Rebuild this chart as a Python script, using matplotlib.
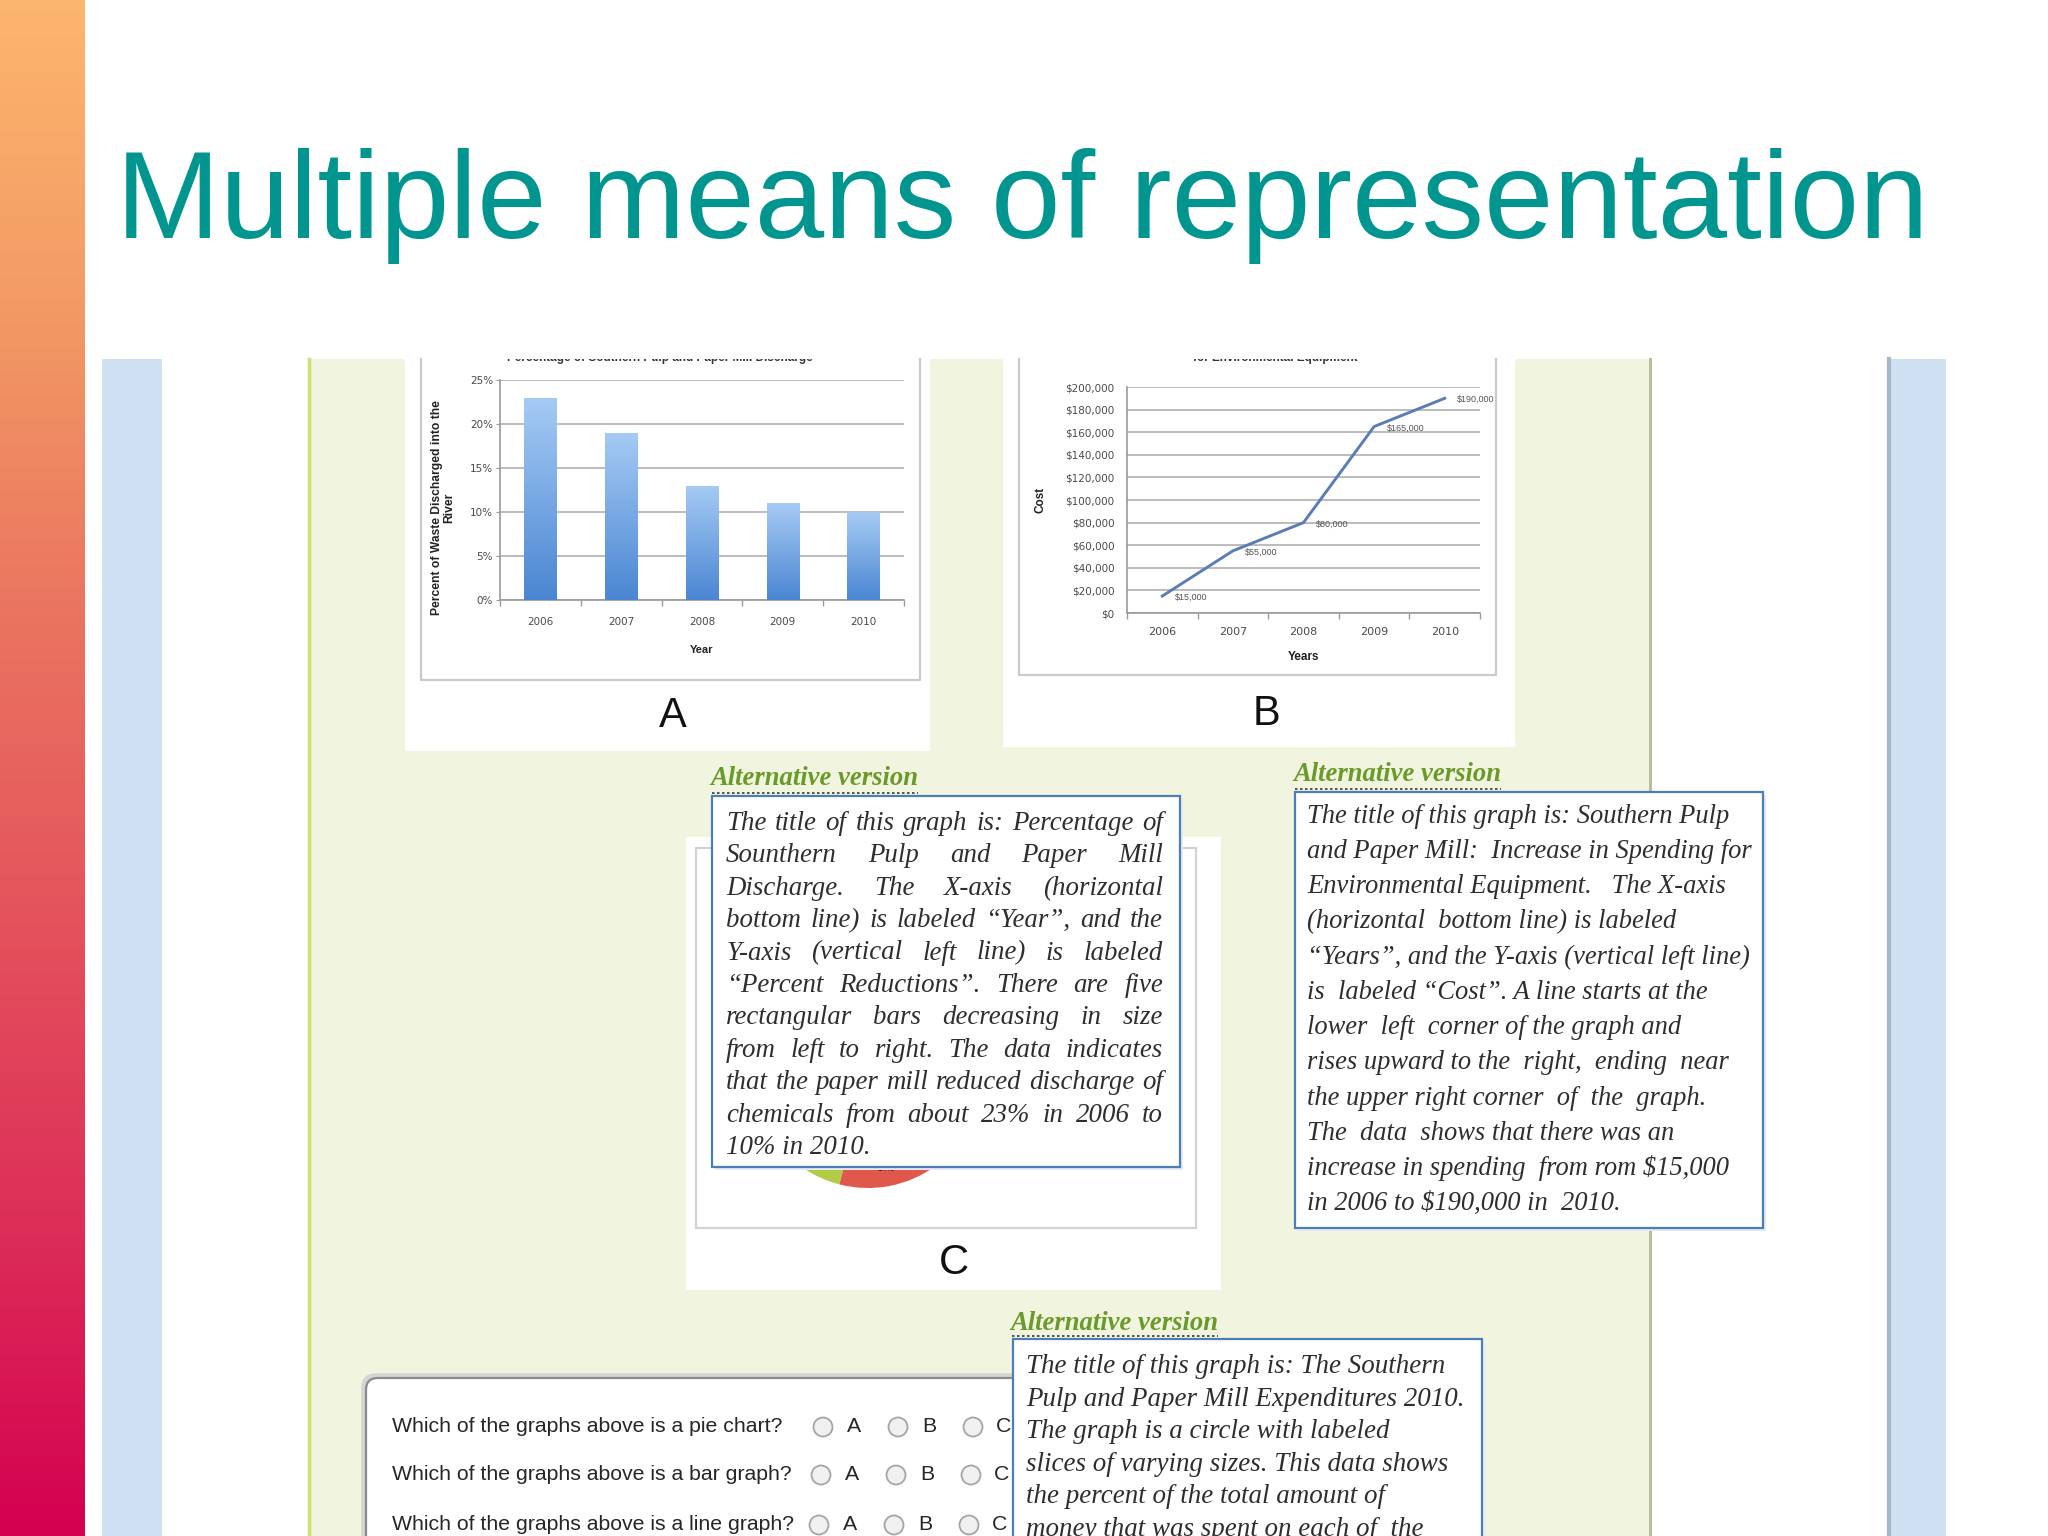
import numpy as np
import matplotlib
matplotlib.use("Agg")
import matplotlib.pyplot as plt
from matplotlib.patches import Rectangle, FancyBboxPatch, Circle
from matplotlib.colors import LinearSegmentedColormap
from matplotlib.transforms import Bbox

# ---------------- data ----------------
slide_title = "Multiple means of representation"
years = ["2006", "2007", "2008", "2009", "2010"]
discharge_pct = [23, 19, 13, 11, 10]
pct_ticks = [0, 5, 10, 15, 20, 25]
chart_a_title = "Percentage of Southern Pulp and Paper Mill Discharge"
chart_a_ylabel = "Percent of Waste Discharged into the\nRiver"
chart_a_xlabel = "Year"

spending = [15000, 55000, 80000, 165000, 190000]
spending_labels = ["$15,000", "$55,000", "$80,000", "$165,000", "$190,000"]
cost_ticks = [0, 20000, 40000, 60000, 80000, 100000, 120000, 140000, 160000, 180000, 200000]
chart_b_title = "Southern Pulp and Paper Mill: Increase in Spending\nfor Environmental Equipment"
chart_b_ylabel = "Cost"
chart_b_xlabel = "Years"

pie_share = [31, 15, 14, 40]
pie_colors = ["#4F81BD", "#B3CB45", "#E0584C", "#8064A2"]

panel_letters = ["A", "B", "C"]
alt_heading = "Alternative version"

alt_a_lines = [
    "The title of this graph is: Percentage of",
    "Sounthern Pulp and Paper Mill",
    "Discharge. The X-axis (horizontal",
    "bottom line) is labeled \u201cYear\u201d, and the",
    "Y-axis (vertical left line) is labeled",
    "\u201cPercent Reductions\u201d. There are five",
    "rectangular bars decreasing in size",
    "from left to right. The data indicates",
    "that the paper mill reduced discharge of",
    "chemicals from about 23% in 2006 to",
    "10% in 2010.",
]
alt_b_lines = [
    "The title of this graph is: Southern Pulp",
    "and Paper Mill:  Increase in Spending for",
    "Environmental Equipment.   The X-axis",
    "(horizontal  bottom line) is labeled",
    "\u201cYears\u201d, and the Y-axis (vertical left line)",
    "is  labeled \u201cCost\u201d. A line starts at the",
    "lower  left  corner of the graph and",
    "rises upward to the  right,  ending  near",
    "the upper right corner  of  the  graph.",
    "The  data  shows that there was an",
    "increase in spending  from rom $15,000",
    "in 2006 to $190,000 in  2010.",
]
alt_c_lines = [
    "The title of this graph is: The Southern",
    "Pulp and Paper Mill Expenditures 2010.",
    "The graph is a circle with labeled",
    "slices of varying sizes. This data shows",
    "the percent of the total amount of",
    "money that was spent on each of  the",
]

questions = [
    "Which of the graphs above is a pie chart?",
    "Which of the graphs above is a bar graph?",
    "Which of the graphs above is a line graph?",
]
options = ["A", "B", "C"]

# ---------------- figure ----------------
W, H = 2048, 1536
fig = plt.figure(figsize=(W / 100, H / 100), dpi=100)
fig.patch.set_facecolor("white")


def px_axes(x0, y0, x1, y1, z=1):
    ax = fig.add_axes([x0 / W, 1 - y1 / H, (x1 - x0) / W, (y1 - y0) / H])
    ax.set_zorder(z)
    return ax


bg = px_axes(0, 0, W, H, 0)
bg.set_xlim(0, W); bg.set_ylim(H, 0); bg.axis("off")
fg = px_axes(0, 0, W, H, 5)
fg.set_xlim(0, W); fg.set_ylim(H, 0); fg.axis("off")

renderer = fig.canvas.get_renderer()


def text_width(s, **kw):
    t = fg.text(0, 0, s, **kw)
    w = t.get_window_extent(renderer).width
    t.remove()
    return w


# left gradient strip
strip_cmap = LinearSegmentedColormap.from_list(
    "strip", ["#FDB66E", "#F39A64", "#EA7460", "#E4525C", "#DC2E58", "#D40050"])
grad = np.linspace(0, 1, 256).reshape(-1, 1)
bg.imshow(grad, extent=(0, 85, H, 0), cmap=strip_cmap, aspect="auto", origin="upper", zorder=1)
bg.set_xlim(0, W); bg.set_ylim(H, 0)

# slide title
title_font = dict(family="Liberation Sans", color="#00968F")
fs_title = 90 * 1812 / text_width(slide_title, fontsize=90, **title_font)
bg.text(116, 238, slide_title, fontsize=fs_title, va="baseline", ha="left", **title_font)

TOP = 359
# blue side strips
bg.add_patch(Rectangle((102, TOP), 60, H - TOP, fc="#CFE0F2", ec="none", zorder=1))
bg.add_patch(Rectangle((1887, TOP), 59, H - TOP, fc="#CFE0F2", ec="none", zorder=1))
bg.plot([1889, 1889], [TOP, H], color="#A9B6C6", lw=3, zorder=2)
# green page panel
bg.add_patch(Rectangle((308, TOP), 1342, H - TOP, fc="#F1F4DE", ec="none", zorder=1))
bg.plot([309, 309], [TOP, H], color="#CDE26E", lw=2.5, zorder=2)
bg.plot([1650, 1650], [TOP, H], color="#B2BA98", lw=2, zorder=2)

# white chart cards
bg.add_patch(Rectangle((405, TOP), 525, 392, fc="white", ec="none", zorder=2))
bg.plot([421, 421, 920, 920], [TOP, 680, 680, TOP], color="#CACACA", lw=1.6, zorder=3)
bg.add_patch(Rectangle((1003, TOP), 512, 388, fc="white", ec="none", zorder=2))
bg.plot([1019, 1019, 1496, 1496], [TOP, 675, 675, TOP], color="#CACACA", lw=1.6, zorder=3)
bg.add_patch(Rectangle((686, 837), 535, 453, fc="white", ec="none", zorder=2))
bg.add_patch(Rectangle((696, 848), 500, 380, fc="none", ec="#D2D2D2", lw=1.6, zorder=3))

letter_font = dict(family="Liberation Sans", fontsize=30, color="#111111", ha="center", va="center")
for letter, (lx, ly) in zip(panel_letters, [(673, 716), (1266, 714), (954, 1263)]):
    bg.text(lx, ly, letter, zorder=4, **letter_font)

# clipped chart titles (only their bottom edge shows)
clip = Bbox.from_extents(0, 0, W, H - TOP)
for txt, cx, by in [(chart_a_title, 660, 361), (chart_b_title, 1275, 361)]:
    t = bg.text(cx, by, txt, fontsize=8.5, fontweight="bold", family="Liberation Sans",
                color="#333333", ha="center", va="baseline", zorder=4, multialignment="center")
    t.set_clip_box(clip)
    t.set_clip_on(True)

GRID = "#B0B0B0"
AXC = "#9A9A9A"


def style_axes(ax):
    for s in ["top", "right"]:
        ax.spines[s].set_visible(False)
    for s in ["left", "bottom"]:
        ax.spines[s].set_color(AXC)
        ax.spines[s].set_linewidth(1.2)
    ax.set_facecolor("none")
    ax.set_axisbelow(True)
    ax.yaxis.grid(True, color=GRID, lw=1.2)
    ax.set_xlim(-0.5, len(years) - 0.5)
    ax.set_xticks(np.arange(-0.5, len(years)), minor=True)
    ax.tick_params(axis="x", which="minor", length=4, color=AXC, width=1)
    ax.tick_params(axis="x", which="major", length=0)


# ---------------- chart A: bar chart ----------------
axA = px_axes(500, 380, 904, 600, 2)
style_axes(axA)
xA = np.arange(len(years))
bars = axA.bar(xA, discharge_pct, width=0.4, color="none", zorder=3)
bar_cmap = LinearSegmentedColormap.from_list("bar", ["#4A86D2", "#A6CBF5"])
for b in bars:
    im = axA.imshow(grad[::-1], extent=(b.get_x(), b.get_x() + b.get_width(), 0, b.get_height()),
                    cmap=bar_cmap, aspect="auto", origin="upper", zorder=3)
    im.set_clip_path(b)
axA.set_xlim(-0.5, len(years) - 0.5)
axA.set_ylim(0, 25)
axA.set_aspect("auto")
axA.set_yticks(pct_ticks, [f"{v}%" for v in pct_ticks])
axA.set_xticks(xA, years)
axA.tick_params(axis="y", length=3, color=AXC, labelsize=7.5, pad=2, labelcolor="#4A4A4A")
axA.tick_params(axis="x", which="major", labelsize=7.5, pad=12, labelcolor="#4A4A4A")
axA.set_ylabel(chart_a_ylabel, fontsize=8.7, fontweight="bold", family="Liberation Sans",
               color="#222222", linespacing=1.05)
axA.yaxis.set_label_coords(-0.11, 0.42)
axA.set_xlabel(chart_a_xlabel, fontsize=8, fontweight="bold", family="Liberation Sans", color="#222222")
axA.xaxis.set_label_coords(0.5, -0.205)

# ---------------- chart B: line chart ----------------
axB = px_axes(1127, 387, 1480, 613, 2)
style_axes(axB)
xB = np.arange(len(years))
axB.plot(xB, spending, color="#5A7DB5", lw=2.1, zorder=3, solid_joinstyle="round")
for xi, v, lbl in zip(xB, spending, spending_labels):
    axB.annotate(lbl, (xi, v), xytext=(9, -1), textcoords="offset points", ha="left", va="center",
                 fontsize=6.5, color="#555555", family="Liberation Sans")
axB.set_ylim(0, 200000)
axB.set_yticks(cost_ticks, [f"${v:,}" for v in cost_ticks])
axB.set_xticks(xB, years)
axB.tick_params(axis="y", length=0, labelsize=7.5, pad=9, labelcolor="#4A4A4A")
axB.tick_params(axis="x", which="major", labelsize=8, pad=10, labelcolor="#4A4A4A")
axB.set_ylabel(chart_b_ylabel, fontsize=8.5, fontweight="bold", family="Liberation Sans", color="#222222")
axB.yaxis.set_label_coords(-0.227, 0.5)
axB.set_xlabel(chart_b_xlabel, fontsize=8.5, fontweight="bold", family="Liberation Sans", color="#222222")
axB.xaxis.set_label_coords(0.5, -0.17)

# ---------------- chart C: pie (mostly hidden) ----------------
axC = px_axes(753, 958, 983, 1188, 2)
_, _, pie_texts = axC.pie(pie_share, colors=pie_colors, startangle=90, counterclock=True, radius=1,
                          autopct="%d%%", pctdistance=0.85,
                          textprops=dict(fontsize=6, color="#5A1A1A", fontweight="bold",
                                         family="Liberation Sans"),
                          wedgeprops=dict(linewidth=0))
for i, t in enumerate(pie_texts):
    if i != 2:  # only the red slice's label peeks out below the text box
        t.set_visible(False)
axC.set_xlim(-1, 1); axC.set_ylim(-1, 1)
axC.axis("off")

# ---------------- quiz box ----------------
fg.add_patch(FancyBboxPatch((364, 1376), 1000, 260, boxstyle="round,pad=0,rounding_size=12",
                            fc="none", ec="#D4D4D4", lw=4, zorder=1))
fg.add_patch(FancyBboxPatch((366, 1378), 1000, 260, boxstyle="round,pad=0,rounding_size=12",
                            fc="white", ec="#8A8A8A", lw=1.6, zorder=1.1))
quiz_font = dict(family="Liberation Sans", color="#262626")
fs_quiz = 15 * 392 / text_width(questions[0], fontsize=15, **quiz_font)
row_y = [1427, 1475, 1525]
row_shift = [0, -2, -4]
for q, y, sh in zip(questions, row_y, row_shift):
    fg.text(392, y, q, fontsize=fs_quiz, va="center", ha="left", zorder=1.5, **quiz_font)
    for k, opt in enumerate(options):
        cx = 823 + sh + 75 * k
        fg.add_patch(Circle((cx, y), 9.5, fc="#F0F0F0", ec="#A5A5A5", lw=1.3, zorder=1.5))
        fg.text(cx + 31, y, opt, fontsize=fs_quiz, va="center", ha="center", zorder=1.5, **quiz_font)

# ---------------- alternative-version text boxes ----------------
body_font = dict(family="Liberation Serif", style="italic", color="#2E2E2E")
head_font = dict(family="Liberation Serif", style="italic", fontweight="bold", color="#6A9A2A")
fs_head = 18 * 208 / text_width(alt_heading, fontsize=18, **head_font)


def fit_size(lines, target):
    widest = max(text_width(s, fontsize=18, **body_font) for s in lines)
    return 18 * target / widest


BOX_EC = "#4C7EB8"


def alt_box(x0, y0, w, h, head_x, head_y):
    fg.add_patch(Rectangle((x0 + 3, y0 + 3), w, h, fc="#E6EBF2", ec="none", zorder=2.9))
    fg.add_patch(Rectangle((x0, y0), w, h, fc="white", ec=BOX_EC, lw=1.6, zorder=3))
    fg.text(head_x, head_y, alt_heading, fontsize=fs_head, va="baseline", ha="left", zorder=3.2, **head_font)
    fg.plot([head_x + 2, head_x + 208], [y0 - 3, y0 - 3], color="#3A3A3A", lw=1.2,
            ls=(0, (1.5, 1.5)), zorder=3.3)


def write_lines(lines, x0, y0, dy, fs, justify_to=None):
    for i, line in enumerate(lines):
        y = y0 + i * dy
        words = line.split()
        if justify_to is None or i == len(lines) - 1 or len(words) < 2:
            fg.text(x0, y, line, fontsize=fs, va="baseline", ha="left", zorder=3.5, **body_font)
            continue
        texts = [fg.text(0, y, w_, fontsize=fs, va="baseline", ha="left", zorder=3.5, **body_font)
                 for w_ in words]
        widths = [t.get_window_extent(renderer).width for t in texts]
        gap = (justify_to - x0 - sum(widths)) / (len(words) - 1)
        x = x0
        for t, wd in zip(texts, widths):
            t.set_x(x)
            x += wd + gap


fs_a = fit_size(alt_a_lines, 432)
fs_b = fit_size(alt_b_lines, 446)
fs_c = fit_size(alt_c_lines, 440)

alt_box(712, 796, 468, 371, 710, 785)
write_lines(alt_a_lines, 726, 830, 32.4, fs_a, justify_to=1163)

alt_box(1295, 792, 468, 436, 1293, 781)
write_lines(alt_b_lines, 1307, 823, 35.2, fs_b)

alt_box(1013, 1339, 469, 300, 1010, 1330)
write_lines(alt_c_lines, 1026, 1373, 32.6, fs_c)

fig.savefig("out.png", dpi=100, facecolor="white")
